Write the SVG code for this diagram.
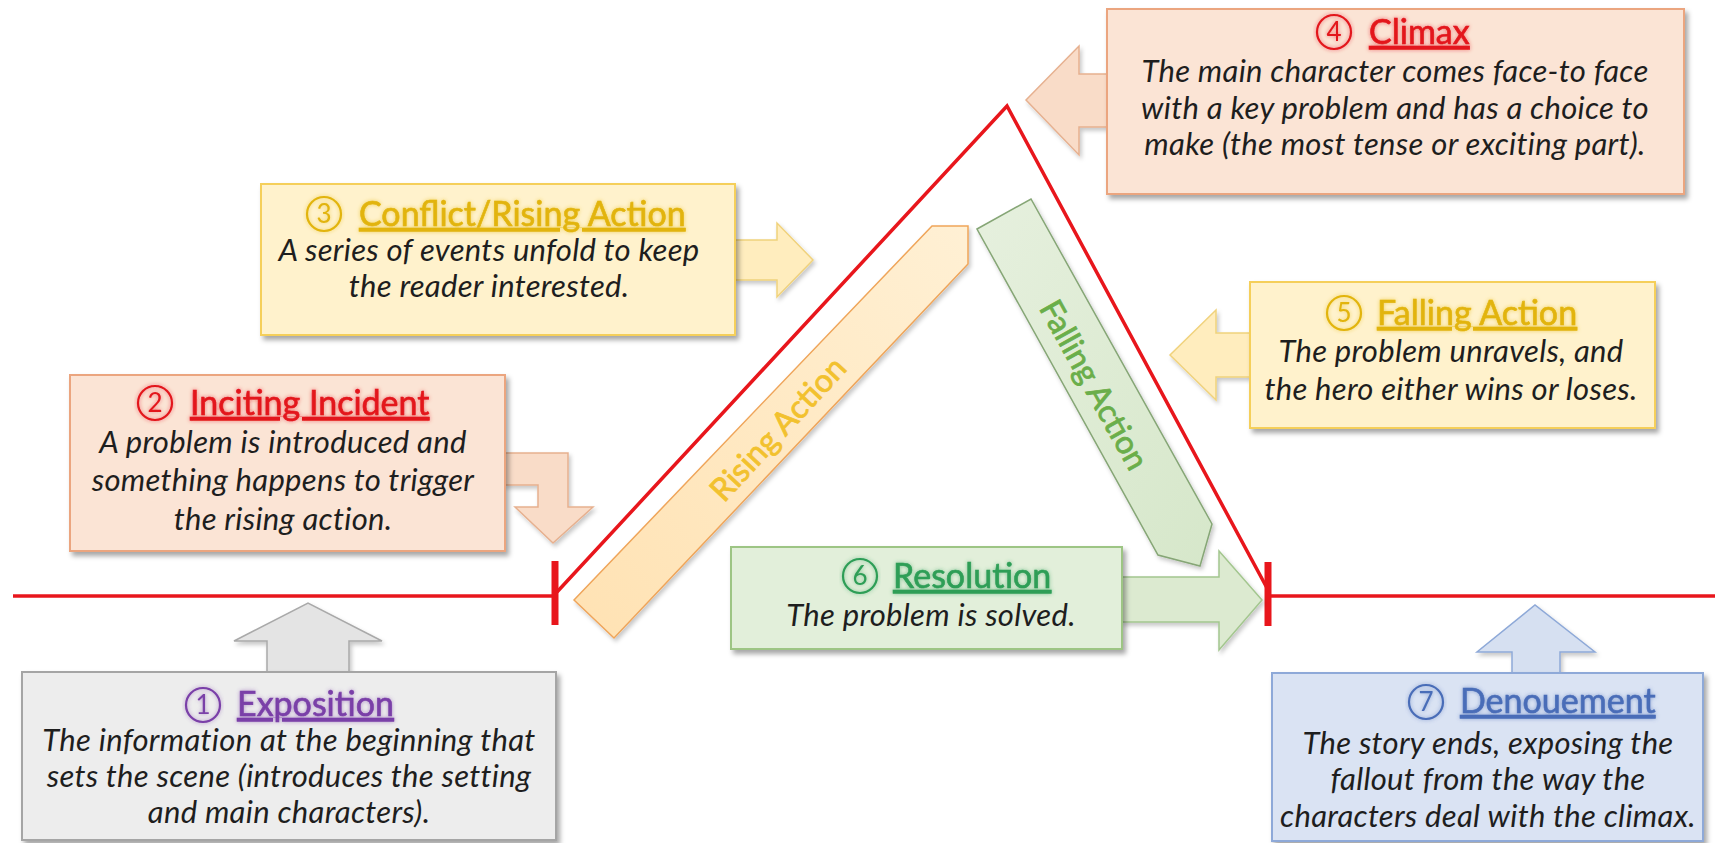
<svg xmlns="http://www.w3.org/2000/svg" width="1715" height="843" viewBox="0 0 1715 843">
<defs>
<filter id="sh" x="-10%" y="-10%" width="125%" height="130%">
<feDropShadow dx="3" dy="4" stdDeviation="2.5" flood-color="#000" flood-opacity="0.35"/>
</filter>
<filter id="ash" x="-10%" y="-10%" width="125%" height="130%">
<feDropShadow dx="2" dy="3" stdDeviation="2" flood-color="#000" flood-opacity="0.22"/>
</filter>
<filter id="glow" x="-10%" y="-30%" width="120%" height="160%">
<feGaussianBlur in="SourceGraphic" stdDeviation="2.2" result="b"/>
<feComponentTransfer in="b" result="b2"><feFuncA type="linear" slope="0.55"/></feComponentTransfer>
<feMerge><feMergeNode in="b2"/><feMergeNode in="SourceGraphic"/></feMerge>
</filter>
<linearGradient id="gRise" x1="0" y1="1" x2="1" y2="0">
<stop offset="0" stop-color="#FFE2B3"/>
<stop offset="1" stop-color="#FFF0D4"/>
</linearGradient>
<linearGradient id="gFall" x1="0" y1="0" x2="1" y2="1">
<stop offset="0" stop-color="#E6F0DE"/>
<stop offset="1" stop-color="#D6E7CA"/>
</linearGradient>
</defs>
<style>
.body{font-family:Lato,"Liberation Sans",sans-serif;font-style:italic;font-size:31px;letter-spacing:0.3px;fill:#1E1E1E;text-anchor:middle}
.ttl{font-family:Lato,"Liberation Sans",sans-serif;font-size:34px;text-decoration:underline;stroke-width:0.6;filter:url(#glow)}
.dig{font-family:Lato,"Liberation Sans",sans-serif;font-size:26px;text-anchor:middle}
.num{fill:none;stroke-width:2.2}
.nb{filter:url(#glow)}
.box{filter:url(#sh);stroke-width:2}
.arr{filter:url(#ash);stroke-width:1.5}
.plot{fill:none;stroke:#E8161C;stroke-width:3.5}
.tick{stroke:#E8161C;stroke-width:7}
.band{font-family:Lato,"Liberation Sans",sans-serif;font-size:32px;text-anchor:middle;stroke-width:0.8}
.pur{fill:#7A3FA8;stroke:#7A3FA8}
.red{fill:#E3141B;stroke:#E3141B}
.gold{fill:#E2B40A;stroke:#E2B40A}
.grn{fill:#2E9E57;stroke:#2E9E57}
.blu{fill:#4A6DB8;stroke:#4A6DB8}
</style>

<g id="plot-line">
<line class="plot" x1="13" y1="596" x2="555" y2="596"/>
<line class="plot" x1="1268" y1="596" x2="1715" y2="596"/>
<polyline class="plot" points="557,592 1007,106 1267,588"/>
<line class="tick" x1="555" y1="561" x2="555" y2="625"/>
<line class="tick" x1="1268" y1="562" x2="1268" y2="626"/>
</g>

<g id="rising-band">
<polygon points="574,600 932,226 968,226 968,264 614,638" fill="url(#gRise)" stroke="#EFA55A" stroke-width="1.5" filter="url(#ash)"/>
<text class="band" x="778" y="440" transform="rotate(-47.2 778 429)" fill="#F2C12E" stroke="#F2C12E">Rising Action</text>
</g>

<g id="falling-band">
<polygon points="977,229 1031,199 1212,524 1200,566 1158,555" fill="url(#gFall)" stroke="#86A676" stroke-width="1.5" filter="url(#ash)"/>
<text class="band" x="1094" y="396" transform="rotate(60.9 1094 385)" fill="#6AAE4A" stroke="#6AAE4A">Falling Action</text>
</g>

<g id="connectors">
<polygon class="arr" points="267,672 267,641 234,641 308,603 382,641 349,641 349,672" fill="#E4E4E4" stroke="#A9A9A9"/>
<polygon class="arr" points="505,453 568,453 568,507 593,507 553,543 515,507 538,507 538,485 505,485" fill="#F9DCC8" stroke="#E6B08F"/>
<polygon class="arr" points="735,240 777,240 777,223 813,260 777,297 777,280 735,280" fill="#FFEDBE" stroke="#F0D27C"/>
<polygon class="arr" points="1107,74 1079,74 1079,46 1026,100 1079,155 1079,127 1107,127" fill="#F9DCC8" stroke="#E6B08F"/>
<polygon class="arr" points="1250,333 1216,333 1216,310 1170,355 1216,400 1216,377 1250,377" fill="#FFEDBE" stroke="#F0D27C"/>
<polygon class="arr" points="1122,577 1219,577 1219,551 1262,600 1219,650 1219,622 1122,622" fill="#DCEAD0" stroke="#A3C68E"/>
<polygon class="arr" points="1512,673 1512,652 1477,652 1535,605 1595,652 1560,652 1560,673" fill="#D6E0F1" stroke="#8EA9D8"/>
</g>

<g id="node-exposition">
<rect class="box" x="22" y="672" width="534" height="168" fill="#EDEDED" stroke="#A5A5A5"/>
<g class="nb"><circle class="num" cx="203" cy="705" r="17" stroke="#7A3FA8"/>
<text class="dig" x="203" y="714" fill="#7A3FA8">1</text></g>
<text class="ttl pur" x="237" y="716">Exposition</text>
<text class="body" x="289" y="751">The information at the beginning that</text>
<text class="body" x="289" y="787">sets the scene (introduces the setting</text>
<text class="body" x="289" y="823">and main characters).</text>
</g>

<g id="node-inciting">
<rect class="box" x="70" y="375" width="435" height="176" fill="#FBE4D5" stroke="#EBA57F"/>
<g class="nb"><circle class="num" cx="155" cy="403" r="17" stroke="#E3141B"/>
<text class="dig" x="155" y="412" fill="#E3141B">2</text></g>
<text class="ttl red" x="190" y="415">Inciting Incident</text>
<text class="body" x="283" y="453">A problem is introduced and</text>
<text class="body" x="283" y="491">something happens to trigger</text>
<text class="body" x="283" y="530">the rising action.</text>
</g>

<g id="node-conflict">
<rect class="box" x="261" y="184" width="474" height="151" fill="#FFF2CC" stroke="#F5CF5A"/>
<g class="nb"><circle class="num" cx="324" cy="214" r="17" stroke="#E2B40A"/>
<text class="dig" x="324" y="223" fill="#E2B40A">3</text></g>
<text class="ttl gold" x="359" y="226">Conflict/Rising Action</text>
<text class="body" x="489" y="261">A series of events unfold to keep</text>
<text class="body" x="489" y="297">the reader interested.</text>
</g>

<g id="node-climax">
<rect class="box" x="1107" y="9" width="577" height="185" fill="#FBE4D5" stroke="#EBA57F"/>
<g class="nb"><circle class="num" cx="1334" cy="32" r="17" stroke="#E3141B"/>
<text class="dig" x="1334" y="41" fill="#E3141B">4</text></g>
<text class="ttl red" x="1369" y="44">Climax</text>
<text class="body" x="1395" y="82">The main character comes face-to face</text>
<text class="body" x="1395" y="119">with a key problem and has a choice to</text>
<text class="body" x="1395" y="155">make (the most tense or exciting part).</text>
</g>

<g id="node-falling">
<rect class="box" x="1250" y="282" width="405" height="146" fill="#FFF2CC" stroke="#F5CF5A"/>
<g class="nb"><circle class="num" cx="1344" cy="313" r="17" stroke="#E2B40A"/>
<text class="dig" x="1344" y="322" fill="#E2B40A">5</text></g>
<text class="ttl gold" x="1377" y="325">Falling Action</text>
<text class="body" x="1451" y="362">The problem unravels, and</text>
<text class="body" x="1451" y="400">the hero either wins or loses.</text>
</g>

<g id="node-resolution">
<rect class="box" x="731" y="547" width="391" height="102" fill="#E2EFDA" stroke="#9DC584"/>
<g class="nb"><circle class="num" cx="860" cy="576" r="17" stroke="#2E9E57"/>
<text class="dig" x="860" y="585" fill="#2E9E57">6</text></g>
<text class="ttl grn" x="893" y="588">Resolution</text>
<text class="body" x="931" y="626">The problem is solved.</text>
</g>

<g id="node-denouement">
<rect class="box" x="1272" y="673" width="431" height="168" fill="#DAE3F3" stroke="#8EA9D8"/>
<g class="nb"><circle class="num" cx="1426" cy="702" r="17" stroke="#4A6DB8"/>
<text class="dig" x="1426" y="711" fill="#4A6DB8">7</text></g>
<text class="ttl blu" x="1460" y="713">Denouement</text>
<text class="body" x="1488" y="754">The story ends, exposing the</text>
<text class="body" x="1488" y="790">fallout from the way the</text>
<text class="body" x="1488" y="827">characters deal with the climax.</text>
</g>
</svg>
